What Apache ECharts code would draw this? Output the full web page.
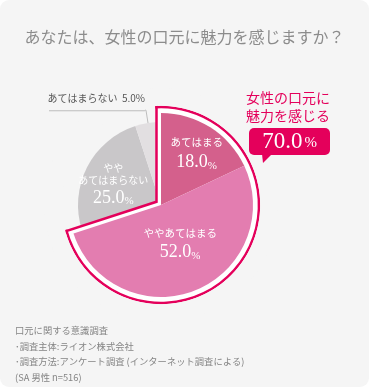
<!DOCTYPE html>
<html><head><meta charset="utf-8">
<script src="https://cdn.jsdelivr.net/npm/echarts@6/dist/echarts.min.js"></script>
<style>
html,body{margin:0;padding:0;background:#ffffff;}
#c{width:369px;height:387px;background:#f5f5f5;border-radius:9px;overflow:hidden;}
</style></head><body><div id="c"></div>
<script>
// ---- data ----
const titleText = 'あなたは、女性の口元に魅力を感じますか？';
const categories = ['あてはまる', 'ややあてはまる', 'ややあてはまらない', 'あてはまらない'];
const labelTexts = ['あてはまる', 'ややあてはまる', 'やや\nあてはまらない', 'あてはまらない'];
const values = [18.0, 52.0, 25.0, 5.0];
const highlightIdx = [0, 1];
const calloutTitle = '女性の口元に\n魅力を感じる';
const footerLines = ['口元に関する意識調査', '･調査主体:ライオン株式会社', '･調査方法:アンケート調査 (インターネット調査による)', '(SA 男性 n=516)'];

// ---- style / layout ----
const COLORS = ['#d4608c', '#e37db0', '#c9c7c9', '#e2dfe1'];
const CRIMSON = '#e4005b', BG = '#f5f5f5', NONE = 'rgba(0,0,0,0)';
const JP = '"Noto Sans CJK JP", "Noto Sans", sans-serif';
const SERIF = '"Liberation Serif", "DejaVu Serif", serif';
const CX = 161, CY = 205, R_PINK = 92, R_GRAY = 83, R_LINE = 98, LW = 2.5, GAP = 4.5;

const rad = Math.PI / 180;
const total = values.reduce((a, b) => a + b, 0);
const pinkSum = highlightIdx.reduce((a, i) => a + values[i], 0);
const pinkAngle = pinkSum / total * 360;
const gapMid = (pinkAngle + 360) / 2;
const ux = Math.sin(gapMid * rad), uy = -Math.cos(gapMid * rad);
const sinHalf = Math.sin((360 - pinkAngle) / 2 * rad);
function offsetCenter(d) { const s = d / sinHalf; return [CX + s * ux, CY + s * uy]; }
const dOuter = GAP + LW / 2, dInner = GAP - LW / 2;
const delta = Math.asin(dOuter / R_LINE) / rad;

const baseSeries = { type: 'pie', startAngle: 90, clockwise: true, silent: true, animation: false,
  label: { show: false }, labelLine: { show: false }, itemStyle: { borderWidth: 0 } };

function pct(v) { return v.toFixed(1); }

const chart = echarts.init(document.getElementById('c'), null, { renderer: 'canvas' });
const labelShift = { 0: [9.4, -9.2], 1: [1.1, -5.8], 2: [-8, 1] };

chart.setOption({
  animation: false,
  backgroundColor: 'transparent',
  title: [
    { text: titleText, left: 'center', top: 24,
      textStyle: { fontSize: 16, fontWeight: 'normal', color: '#8c8c8c', fontFamily: JP } },
    { text: footerLines.join('\n'), left: 10, top: 318,
      textStyle: { fontSize: 9.3, fontWeight: 'normal', color: '#858585', lineHeight: 15.5, fontFamily: JP } }
  ],
  series: [
    // gray slices
    Object.assign({}, baseSeries, { z: 1, center: [CX, CY], radius: [0, R_GRAY],
      data: values.map((v, i) => ({ value: v, name: categories[i],
        itemStyle: { color: highlightIdx.includes(i) ? NONE : COLORS[i] } })) }),
    // outline: crimson outer sector
    Object.assign({}, baseSeries, { z: 2, center: offsetCenter(dOuter), radius: [0, 108],
      data: [{ value: pinkSum, itemStyle: { color: CRIMSON } }, { value: total - pinkSum, itemStyle: { color: NONE } }] }),
    // outline: white inner sector
    Object.assign({}, baseSeries, { z: 3, center: offsetCenter(dInner), radius: [0, 108],
      data: [{ value: pinkSum, itemStyle: { color: '#ffffff' } }, { value: total - pinkSum, itemStyle: { color: NONE } }] }),
    // outline: crimson arc
    Object.assign({}, baseSeries, { z: 4, center: [CX, CY], radius: [R_LINE - LW / 2, R_LINE + LW / 2], startAngle: 90 + delta,
      data: [{ value: pinkAngle + 2 * delta, itemStyle: { color: CRIMSON } }, { value: 360 - pinkAngle - 2 * delta, itemStyle: { color: NONE } }] }),
    // background ring trimming outline
    Object.assign({}, baseSeries, { z: 5, center: [CX, CY], radius: [R_LINE + LW / 2, 117],
      data: [{ value: 1, itemStyle: { color: BG } }] }),
    // pink slices
    Object.assign({}, baseSeries, { z: 6, center: [CX, CY], radius: [0, R_PINK],
      data: values.map((v, i) => ({ value: v, name: categories[i],
        itemStyle: { color: highlightIdx.includes(i) ? COLORS[i] : NONE },
        label: { show: highlightIdx.includes(i) } })),
      label: { show: true, position: 'inside',
        formatter: p => '{n|' + labelTexts[p.dataIndex] + '}\n{v|' + pct(p.value) + '}{p|%}',
        rich: {
          n: { fontSize: 10.5, color: '#fff', lineHeight: 16, fontFamily: JP },
          v: { fontSize: 18, color: '#fff', lineHeight: 24, fontFamily: SERIF },
          p: { fontSize: 11, color: '#fff', lineHeight: 24, fontFamily: SERIF, verticalAlign: 'bottom', padding: [0, 0, 3, 0] }
        } },
      labelLayout: p => { const s = labelShift[p.dataIndex] || [0, 0]; return { dx: s[0], dy: s[1] }; }
    }),
    // label layer for gray slices
    Object.assign({}, baseSeries, { z: 7, center: [CX, CY], radius: [0, R_GRAY],
      data: values.map((v, i) => {
        const it = { value: v, name: categories[i], itemStyle: { color: NONE }, label: { show: i === 2 } };
        if (i === 3) {
          it.label = { show: true, position: 'outside', distanceToLabelLine: 0, padding: [0, 0, 23, 0],
            formatter: p => '{t|' + labelTexts[p.dataIndex] + '  ' + pct(p.value) + '%}\n{u|}' };
          it.labelLine = { show: true, length: 13, length2: 1, lineStyle: { color: '#bdbdbd', width: 1 } };
        }
        return it;
      }),
      label: { show: true, position: 'inside',
        formatter: p => labelTexts[p.dataIndex].split('\n').map(s => '{n|' + s + '}').join('\n') + '\n{v|' + pct(p.value) + '}{p|%}',
        rich: {
          n: { fontSize: 10, color: '#fff', lineHeight: 12, fontFamily: JP },
          v: { fontSize: 18, color: '#fff', lineHeight: 24, fontFamily: SERIF },
          p: { fontSize: 11, color: '#fff', lineHeight: 24, fontFamily: SERIF, verticalAlign: 'bottom', padding: [0, 0, 3, 0] },
          t: { fontSize: 10, color: '#555', lineHeight: 24, fontFamily: JP, align: 'right' },
          u: { width: 96, height: 1, lineHeight: 1, backgroundColor: '#bdbdbd', align: 'right' }
        } },
      labelLayout: p => { const s = labelShift[p.dataIndex]; return s ? { dx: s[0], dy: s[1] } : {}; }
    })
  ],
  graphic: [
    { type: 'text', z: 100, x: 288, y: 89,
      style: { text: calloutTitle, fill: CRIMSON, fontSize: 14, fontFamily: JP, lineHeight: 18, textAlign: 'center', textVerticalAlign: 'top' } },
    { type: 'rect', z: 100, shape: { x: 249, y: 128, width: 81, height: 27, r: 5 }, style: { fill: CRIMSON } },
    { type: 'polygon', z: 100, shape: { points: [[262, 154], [272, 154], [263, 163]] }, style: { fill: CRIMSON } },
    { type: 'text', z: 101, x: 289.5, y: 142,
      style: { text: '{n|' + pct(pinkSum) + '}{p|%}', textAlign: 'center', textVerticalAlign: 'middle', fill: '#fff',
        rich: { n: { fontSize: 23, fontFamily: SERIF, fill: '#fff' },
                p: { fontSize: 15, fontFamily: SERIF, fill: '#fff', verticalAlign: 'bottom', padding: [0, 0, 3, 2] } } } }
  ]
});
</script></body></html>
